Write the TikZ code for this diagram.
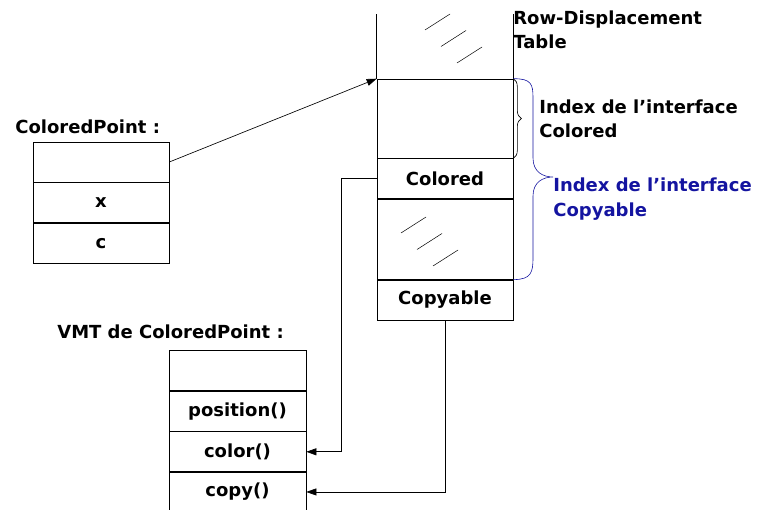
\documentclass[tikz,border=0pt]{standalone}
\usepackage{fontspec}
\setmainfont{DejaVu Sans}
\usetikzlibrary{positioning,arrows.meta,decorations.pathreplacing}

\definecolor{idxblue}{RGB}{20,20,160}
\newcommand{\lbl}{\fontsize{18}{24.5}\selectfont\bfseries}

\tikzset{
	cell/.style={draw, rectangle, minimum width=136pt, minimum height=40pt, inner sep=0pt, font=\lbl},
	title/.style={inner sep=0pt, align=left, font=\lbl},
	hatch/.style={line width=0.5pt}
}

\begin{document}
\begin{tikzpicture}[x=1pt, y=-1pt, line width=0.65pt, >={Triangle[length=10pt,width=7pt]}]
	\useasboundingbox (0,0) rectangle (767,510);

	%row-displacement table
	\node[cell, minimum height=79pt] (idx) at (445,118.5) {};
	\node[cell, below=0pt of idx] (colored) {Colored};
	\node[cell, minimum height=80pt, below=0pt of colored] (gap) {};
	\node[cell, below=0pt of gap] (copyable) {Copyable};
	\draw (idx.north west) -- ++(0,-65);
	\draw (idx.north east) -- ++(0,-65);
	\foreach \hx/\hy in {425/30, 401/233}
		\foreach \k in {0,1,2}
			\draw[hatch] (\hx+16*\k,\hy+16.5*\k) -- ++(25,-16);
	\node[title, anchor=west] (rdt) at (513,30) {Row-Displacement\\Table};

	%braces on the right
	\draw[decorate, decoration={brace, amplitude=8pt}, line width=0.6pt] (idx.north east) -- (idx.south east);
	\node[title, anchor=west] (icol) at (539,119) {Index de l’interface\\Colored};
	\draw[idxblue, line width=0.6pt] (idx.north east) .. controls +(18,0) and +(0,-14) .. (533,98) -- (533,158)
		.. controls +(0,14) and +(-10,0) .. (553,177) .. controls +(-10,0) and +(0,-14) .. (533,196)
		-- (533,258) .. controls +(0,14) and +(18,0) .. (gap.south east);
	\node[title, anchor=west, text=idxblue] (icop) at (553,199) {Index de l’interface\\Copyable};

	%object ColoredPoint
	\node[title, anchor=west] (cpname) at (15,127) {ColoredPoint :};
	\node[cell] (vptr) at (101,162) {};
	\node[cell, below=0pt of vptr] (fx) {x};
	\node[cell, below=0pt of fx] (fc) {c};

	%VMT
	\node[title, anchor=west] (vmtname) at (57,332) {VMT de ColoredPoint :};
	\node[cell, minimum width=137pt] (vtop) at (237.5,370.5) {};
	\node[cell, minimum width=137pt, below=0pt of vtop] (mpos) {position()};
	\node[cell, minimum width=137pt, below=0pt of mpos] (mcolor) {color()};
	\node[cell, minimum width=137pt, minimum height=39pt, below=0pt of mcolor] (mcopy) {copy()};

	%links
	\draw[->] (vptr.east) -- (idx.north west);
	\draw[->] (colored.west) -- ++(-35,0) |- (mcolor.east);
	\draw[->] (copyable.south) |- (mcopy.east);
\end{tikzpicture}
\end{document}
